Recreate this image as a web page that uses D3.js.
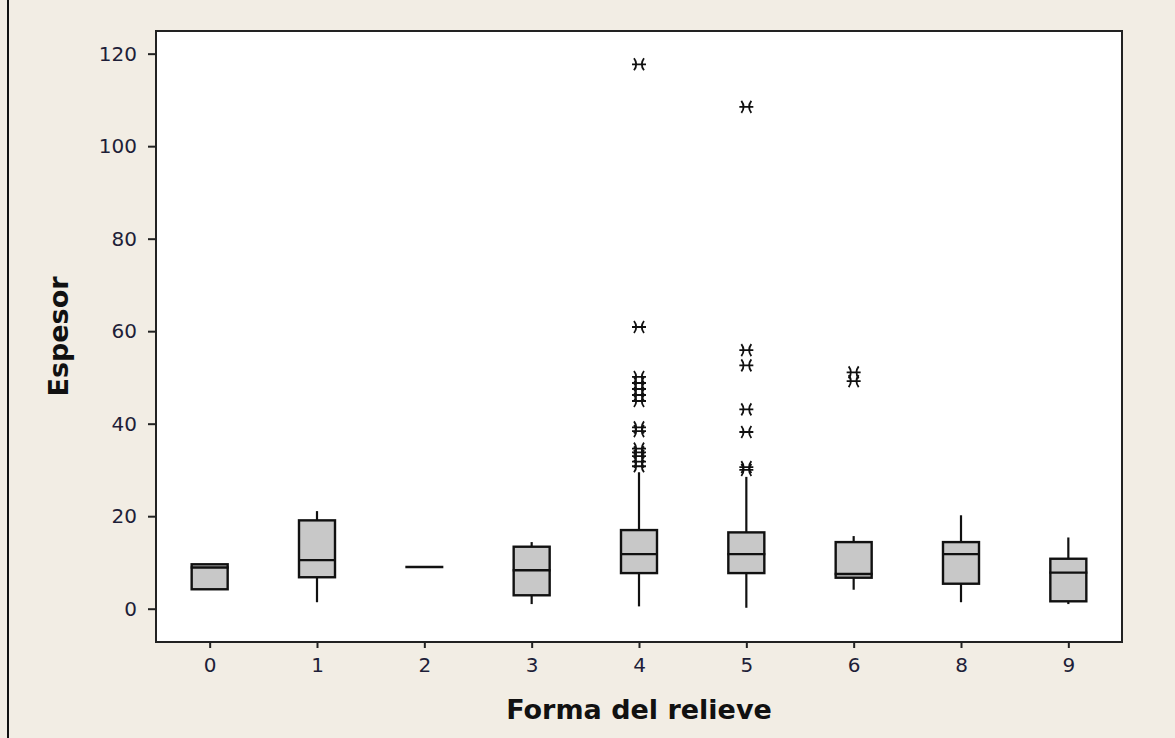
<!DOCTYPE html>
<html>
<head>
<meta charset="utf-8">
<script src="https://cdn.jsdelivr.net/npm/d3@7"></script>
<style>
  body { margin: 0; background: #f2ede4; }
  svg { display: block; }
  .tick text { font-family: "DejaVu Sans", sans-serif; font-size: 20px; fill: #1e1e38; }
  .axis-title { font-family: "DejaVu Sans", sans-serif; font-size: 27px; font-weight: bold; fill: #111; }
</style>
</head>
<body>
<svg width="1175" height="738"></svg>
<script>
// categories on the x axis ("Forma del relieve")
var categories = ["0", "1", "2", "3", "4", "5", "6", "8", "9"];

// box summaries for "Espesor"
var whiskerLow  = [4.2, 1.4, 9.0, 1.0, 0.5, 0.2, 4.1, 1.4, 1.0];
var q1          = [4.2, 6.8, 9.0, 2.9, 7.7, 7.7, 6.7, 5.4, 1.6];
var median      = [8.9, 10.5, 9.0, 8.3, 11.8, 11.8, 7.5, 11.8, 7.8];
var q3          = [9.6, 19.1, 9.0, 13.4, 17.0, 16.5, 14.4, 14.4, 10.8];
var whiskerHigh = [9.6, 21.1, 9.0, 14.4, 29.5, 28.5, 15.7, 20.2, 15.4];

var outliers = [
  [], [], [], [],
  [117.7, 60.9, 50.1, 48.8, 47.5, 46.2, 44.9, 39.2, 38.4, 34.6, 33.8, 33.0, 31.8, 30.8],
  [108.5, 55.9, 52.6, 43.1, 38.2, 30.6, 30.0],
  [51.1, 49.2],
  [], []
];

var yTicks = [0, 20, 40, 60, 80, 100, 120];

var svg = d3.select("svg"),
    margin = {top: 31, right: 53, bottom: 96, left: 156},
    width = svg.attr("width") - margin.left - margin.right,
    height = svg.attr("height") - margin.top - margin.bottom;

// dark border line on the left of the window
svg.append("rect")
    .attr("x", 7).attr("y", 0)
    .attr("width", 2).attr("height", 738)
    .attr("fill", "#111");

var x = d3.scalePoint().domain(categories).range([0, width]).padding(0.5),
    y = d3.scaleLinear().domain([-7.2, 124.9]).range([height, 0]);

var g = svg.append("g")
    .attr("transform", "translate(" + margin.left + "," + margin.top + ")");

g.append("rect")
    .attr("width", width)
    .attr("height", height)
    .attr("fill", "#fff");

var boxW = 36;

var data = categories.map(function(c, i) {
  return {cat: c, lo: whiskerLow[i], q1: q1[i], med: median[i], q3: q3[i], hi: whiskerHigh[i], out: outliers[i]};
});

var box = g.selectAll(".box")
  .data(data)
  .enter().append("g")
    .attr("class", "box")
    .attr("transform", function(d) { return "translate(" + x(d.cat) + ",0)"; });

// whiskers (no caps)
box.append("line")
    .attr("y1", function(d) { return y(d.hi); })
    .attr("y2", function(d) { return y(d.q3); })
    .attr("stroke", "#111").attr("stroke-width", 2.2);
box.append("line")
    .attr("y1", function(d) { return y(d.q1); })
    .attr("y2", function(d) { return y(d.lo); })
    .attr("stroke", "#111").attr("stroke-width", 2.2);

box.filter(function(d) { return d.q3 > d.q1; })
  .append("rect")
    .attr("x", -boxW / 2)
    .attr("width", boxW)
    .attr("y", function(d) { return y(d.q3); })
    .attr("height", function(d) { return y(d.q1) - y(d.q3); })
    .attr("fill", "#c8c8c8")
    .attr("stroke", "#111")
    .attr("stroke-width", 2.4);

box.append("line")
    .attr("x1", -boxW / 2 - 1)
    .attr("x2", boxW / 2 + 1)
    .attr("y1", function(d) { return y(d.med); })
    .attr("y2", function(d) { return y(d.med); })
    .attr("stroke", "#111").attr("stroke-width", 2.4);

// minitab-style asterisk for outliers
var star = "M-7,0H7M-5,-6Q-0.5,0 -5,6M5,-6Q0.5,0 5,6";
box.selectAll(".out")
  .data(function(d) { return d.out; })
  .enter().append("path")
    .attr("class", "out")
    .attr("transform", function(v) { return "translate(0," + y(v) + ")"; })
    .attr("d", star)
    .attr("fill", "none")
    .attr("stroke", "#111")
    .attr("stroke-width", 1.8);

// frame
g.append("rect")
    .attr("width", width)
    .attr("height", height)
    .attr("fill", "none")
    .attr("stroke", "#222")
    .attr("stroke-width", 2);

var yAxis = g.append("g")
    .call(d3.axisLeft(y).tickValues(yTicks).tickSize(8).tickPadding(11));
yAxis.select(".domain").remove();
yAxis.selectAll(".tick line").attr("stroke", "#222").attr("stroke-width", 2);

var xAxis = g.append("g")
    .attr("transform", "translate(0," + height + ")")
    .call(d3.axisBottom(x).tickSize(6).tickPadding(10));
xAxis.select(".domain").remove();
xAxis.selectAll(".tick line").attr("stroke", "#222").attr("stroke-width", 2);

svg.append("text")
    .attr("class", "axis-title")
    .attr("x", margin.left + width / 2)
    .attr("y", 719)
    .attr("text-anchor", "middle")
    .text("Forma del relieve");

svg.append("text")
    .attr("class", "axis-title")
    .attr("transform", "translate(68," + (margin.top + height / 2) + ") rotate(-90)")
    .attr("text-anchor", "middle")
    .text("Espesor");
</script>
</body>
</html>
